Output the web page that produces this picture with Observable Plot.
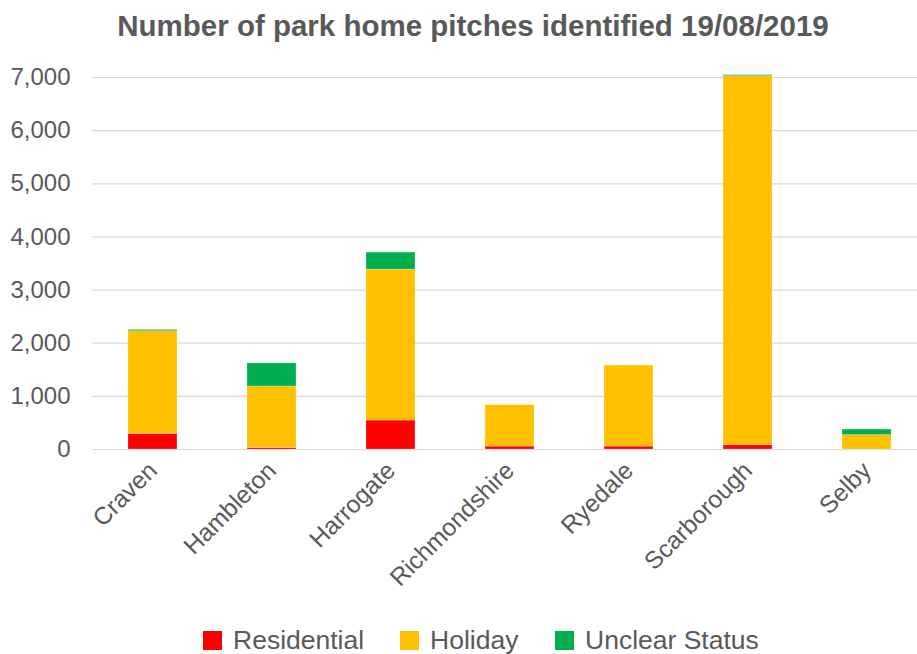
<!DOCTYPE html>
<html>
<head>
<meta charset="utf-8">
<script src="https://cdn.jsdelivr.net/npm/d3@7"></script>
<script src="https://cdn.jsdelivr.net/npm/@observablehq/plot@0.6"></script>
<style>
  html, body { margin: 0; padding: 0; background: #fff; overflow: hidden; width: 917px; height: 654px; }
  body { font-family: "Liberation Sans", Arial, sans-serif; color: #595959; position: relative; }
  #title { height: 50px; line-height: 52px; text-align: center; font-weight: bold; font-size: 29.5px; color: #595959; padding-left: 29px; white-space: nowrap; }
  #chart { width: 926px; height: 570px; }
  #legend { position: absolute; top: 625px; left: 0; width: 917px; height: 30px; font-size: 26.5px; color: #595959; }
  .item { position: absolute; top: 0; display: flex; align-items: center; white-space: nowrap; }
  .sw { width: 19px; height: 19px; margin-right: 11px; }
</style>
</head>
<body>
<div id="title">Number of park home pitches identified 19/08/2019</div>
<div id="chart"></div>
<div id="legend"></div>
<script>
const categories = ["Craven", "Hambleton", "Harrogate", "Richmondshire", "Ryedale", "Scarborough", "Selby"];
const residential = [295, 30, 545, 55, 55, 80, 0];
const holiday = [1930, 1155, 2840, 780, 1525, 6945, 270];
const unclear = [25, 435, 320, 0, 0, 20, 105];
const seriesNames = ["Residential", "Holiday", "Unclear Status"];
const seriesColors = ["#FF0000", "#FFC000", "#00B050"];
const yTicks = [0, 1000, 2000, 3000, 4000, 5000, 6000, 7000];

const seriesValues = [residential, holiday, unclear];
const data = [];
seriesNames.forEach((s, si) => {
  categories.forEach((c, ci) => data.push({category: c, series: s, value: seriesValues[si][ci]}));
});

const chart = Plot.plot({
  width: 926,
  height: 570,
  marginLeft: 92,
  marginRight: 0,
  marginTop: 27,
  marginBottom: 171,
  style: {fontFamily: "'Liberation Sans', Arial, sans-serif", fontSize: "24px", color: "#595959", background: "#fff"},
  x: {domain: categories, paddingInner: 0.59, paddingOuter: 0.295, label: null},
  y: {domain: [0, 7000], label: null},
  color: {domain: seriesNames, range: seriesColors},
  marks: [
    Plot.ruleY(yTicks, {stroke: "#d9d9d9", strokeWidth: 1.2}),
    Plot.barY(data, {x: "category", y: "value", fill: "series", order: seriesNames, stroke: "#fff", strokeOpacity: 0.4, strokeWidth: 0.6}),
    Plot.axisY({ticks: yTicks, tickFormat: d3.format(","), tickSize: 0, tickPadding: 22, label: null, fill: "#595959", fontSize: 24}),
    Plot.axisX({tickRotate: -45, tickSize: 0, tickPadding: 17, label: null, fill: "#595959", fontSize: 24.5})
  ]
});
document.getElementById("chart").appendChild(chart);

const legend = document.getElementById("legend");
const lefts = [203, 400, 555];
seriesNames.forEach((s, i) => {
  const item = document.createElement("div");
  item.className = "item";
  item.style.left = lefts[i] + "px";
  const sw = document.createElement("div");
  sw.className = "sw";
  sw.style.background = seriesColors[i];
  const t = document.createElement("span");
  t.textContent = s;
  item.appendChild(sw);
  item.appendChild(t);
  legend.appendChild(item);
});
</script>
</body>
</html>
